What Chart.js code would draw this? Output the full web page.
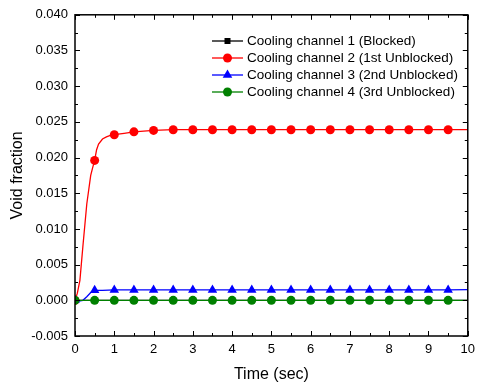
<!DOCTYPE html>
<html>
<head>
<meta charset="utf-8">
<script src="https://cdn.jsdelivr.net/npm/chart.js@4/dist/chart.umd.min.js"></script>
<style>
  html, body { margin: 0; padding: 0; background: #fff; }
  #wrap { width: 481px; height: 384px; }
</style>
</head>
<body>
<div id="wrap"><canvas id="chart" width="481" height="384"></canvas></div>
<script>
// data (time in sec, void fraction)
const seriesNames = [
  'Cooling channel 1 (Blocked)',
  'Cooling channel 2 (1st Unblocked)',
  'Cooling channel 3 (2nd Unblocked)',
  'Cooling channel 4 (3rd Unblocked)'
];
const tFlat = [0, 0.5, 1, 1.5, 2, 2.5, 3, 3.5, 4, 4.5, 5, 5.5, 6, 6.5, 7, 7.5, 8, 8.5, 9, 9.5, 10];
const ch1Void = [0, 0, 0, 0, 0, 0, 0, 0, 0, 0, 0, 0, 0, 0, 0, 0, 0, 0, 0, 0, 0];
const ch4Void = [0, 0, 0, 0, 0, 0, 0, 0, 0, 0, 0, 0, 0, 0, 0, 0, 0, 0, 0, 0, 0];

const tCh2 = [0, 0.06, 0.125, 0.2, 0.3, 0.4, 0.45, 0.5, 0.55, 0.6, 0.7, 0.8, 0.9, 1, 1.25, 1.5, 2, 2.5, 3, 3.5, 4, 4.5, 5, 5.5, 6, 6.5, 7, 7.5, 8, 8.5, 9, 9.5, 10];
const ch2Void = [0, 0.0010, 0.0028, 0.0075, 0.0135, 0.0175, 0.0186, 0.0196, 0.0211, 0.0219, 0.0226, 0.0229, 0.0231, 0.0232, 0.0234, 0.0236, 0.0238, 0.0239, 0.0239, 0.0239, 0.0239, 0.0239, 0.0239, 0.0239, 0.0239, 0.0239, 0.0239, 0.0239, 0.0239, 0.0239, 0.0239, 0.0239, 0.0239];

const tCh3 = [0, 0.1, 0.2, 0.3, 0.4, 0.5, 0.7, 1, 1.5, 2, 2.5, 3, 3.5, 4, 4.5, 5, 5.5, 6, 6.5, 7, 7.5, 8, 8.5, 9, 9.5, 10];
const ch3Void = [0, -0.0001, 0.0000, 0.0005, 0.0011, 0.0014, 0.0014, 0.00145, 0.00145, 0.00145, 0.00145, 0.00145, 0.00145, 0.00145, 0.00145, 0.00145, 0.00145, 0.00145, 0.00145, 0.00145, 0.00145, 0.00145, 0.00145, 0.00145, 0.00145, 0.0015];

const toPts = (xs, ys) => xs.map((x, i) => ({ x: x, y: ys[i] }));
// markers only every 0.5 s, up to 9.5 s
const markR = (r) => (c) => {
  const x = c.raw ? c.raw.x : 0;
  return (Math.abs(x * 2 - Math.round(x * 2)) < 1e-6 && x < 9.9) ? r : 0;
};

const FONT = 'Liberation Sans, Arial, sans-serif';

function makeSet(label, pts, color, style, r, order) {
  return {
    label: label,
    data: pts,
    showLine: true,
    borderColor: color,
    backgroundColor: color,
    borderWidth: 1.3,
    pointStyle: style,
    pointRadius: markR(r),
    pointHoverRadius: markR(r),
    pointBorderWidth: 0,
    tension: 0,
    order: order
  };
}

const datasets = [
  makeSet(seriesNames[0], toPts(tFlat, ch1Void), '#000000', 'rect', 4, 3),
  makeSet(seriesNames[1], toPts(tCh2, ch2Void), '#ff0000', 'circle', 4.5, 2),
  makeSet(seriesNames[2], toPts(tCh3, ch3Void), '#0000ff', 'triangle', 5.5, 1),
  makeSet(seriesNames[3], toPts(tFlat, ch4Void), '#008000', 'circle', 4.5, 0)
];

// frame with inward ticks on all four sides + custom legend
const framePlugin = {
  id: 'frame',
  afterDraw(chart) {
    const ctx = chart.ctx;
    const a = chart.chartArea;
    const xs = chart.scales.x, ys = chart.scales.y;
    ctx.save();
    ctx.strokeStyle = '#000';
    ctx.lineWidth = 1.5;
    ctx.strokeRect(a.left, a.top, a.right - a.left, a.bottom - a.top);
    ctx.lineWidth = 1;
    ctx.beginPath();
    for (let v = 0; v <= 10.001; v += 0.5) {
      const px = Math.round(xs.getPixelForValue(v)) + 0.5;
      const len = (Math.abs(v - Math.round(v)) < 1e-6) ? 5 : 3;
      ctx.moveTo(px, a.bottom); ctx.lineTo(px, a.bottom - len);
      ctx.moveTo(px, a.top); ctx.lineTo(px, a.top + len);
    }
    for (let k = -2; k <= 16; k++) {
      const v = k * 0.0025;
      const py = Math.round(ys.getPixelForValue(v)) + 0.5;
      const len = (k % 2 === 0) ? 5 : 3;
      ctx.moveTo(a.left, py); ctx.lineTo(a.left + len, py);
      ctx.moveTo(a.right, py); ctx.lineTo(a.right - len, py);
    }
    ctx.stroke();

    // legend
    const x0 = 212, x1 = 243, tx = 247;
    const rows = [41, 58, 75, 92];
    ctx.font = '13.5px ' + FONT;
    ctx.textBaseline = 'middle';
    ctx.textAlign = 'left';
    chart.data.datasets.forEach((ds, i) => {
      const y = rows[i];
      const cx = (x0 + x1) / 2;
      ctx.strokeStyle = ds.borderColor;
      ctx.lineWidth = 1.3;
      ctx.beginPath();
      ctx.moveTo(x0, y); ctx.lineTo(x1, y);
      ctx.stroke();
      const r = i === 2 ? 5.5 : (i === 0 ? 4 : 4.5);
      ctx.fillStyle = ds.borderColor;
      ctx.beginPath();
      if (ds.pointStyle === 'circle') {
        ctx.arc(cx, y, r, 0, Math.PI * 2);
      } else if (ds.pointStyle === 'rect') {
        ctx.rect(cx - r * 0.75, y - r * 0.75, r * 1.5, r * 1.5);
      } else {
        ctx.moveTo(cx, y - r);
        ctx.lineTo(cx + r * 0.87, y + r * 0.5);
        ctx.lineTo(cx - r * 0.87, y + r * 0.5);
        ctx.closePath();
      }
      ctx.fill();
      ctx.fillStyle = '#000';
      ctx.fillText(ds.label, tx, y + 0.5);
    });
    ctx.restore();
  }
};

new Chart(document.getElementById('chart').getContext('2d'), {
  type: 'scatter',
  data: { datasets: datasets },
  options: {
    responsive: false,
    animation: false,
    events: [],
    layout: { padding: { top: 14, right: 6, left: 0, bottom: 0 } },
    plugins: {
      legend: { display: false },
      tooltip: { enabled: false }
    },
    scales: {
      x: {
        type: 'linear',
        min: 0,
        max: 10,
        grid: { display: false, drawTicks: false },
        border: { display: false },
        ticks: {
          stepSize: 1,
          padding: 6,
          color: '#000',
          font: { family: FONT, size: 13 }
        },
        title: {
          display: true,
          text: 'Time (sec)',
          color: '#000',
          font: { family: FONT, size: 16 },
          padding: { top: 0, bottom: 0 }
        },
        afterFit(s) { s.height = 48; }
      },
      y: {
        type: 'linear',
        min: -0.005,
        max: 0.04,
        grid: { display: false, drawTicks: false },
        border: { display: false },
        ticks: {
          stepSize: 0.005,
          padding: 7,
          color: '#000',
          font: { family: FONT, size: 13 },
          callback: (v) => v.toFixed(3)
        },
        title: {
          display: true,
          text: 'Void fraction',
          color: '#000',
          font: { family: FONT, size: 16 },
          padding: { top: 8, bottom: 0 }
        },
        afterFit(s) { s.width = 75; }
      }
    }
  },
  plugins: [framePlugin]
});
</script>
</body>
</html>
